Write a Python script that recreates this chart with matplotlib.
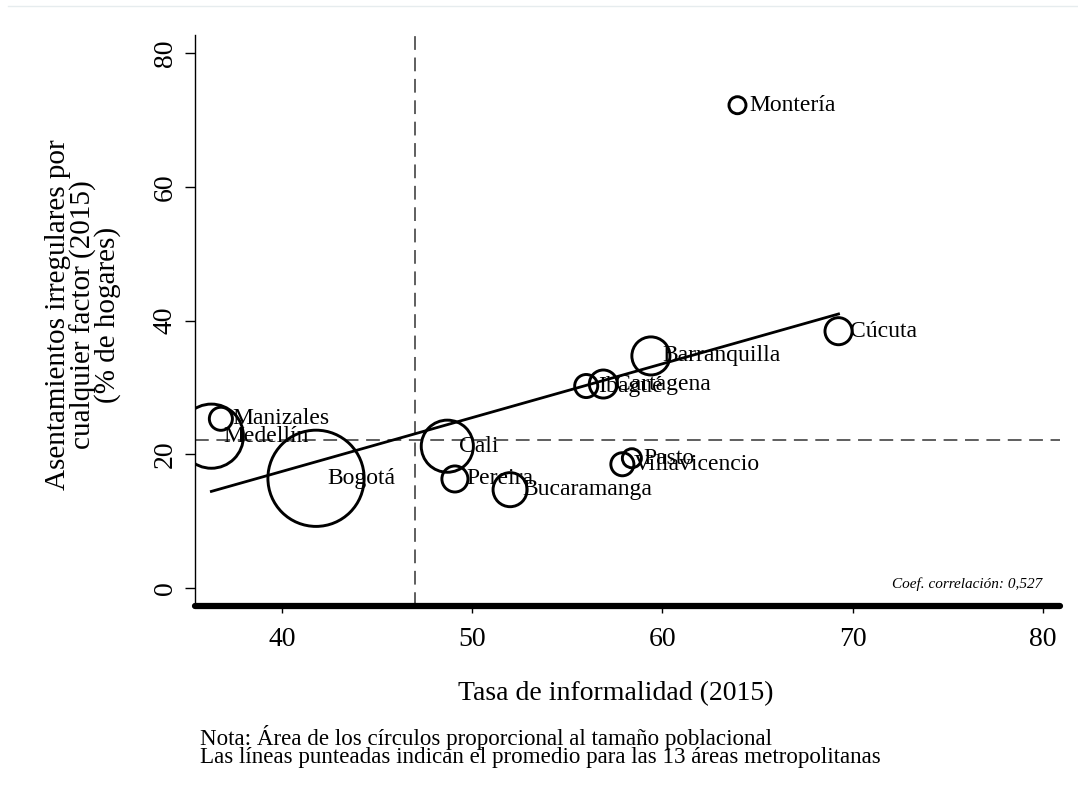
import numpy as np
import matplotlib
matplotlib.use("Agg")
import matplotlib.pyplot as plt
from matplotlib.lines import Line2D

plt.rcParams['font.family'] = ['Liberation Serif', 'DejaVu Serif']

# Data
cities = ["Medellín", "Manizales", "Bogotá", "Cali", "Pereira", "Bucaramanga",
          "Ibagué", "Cartagena", "Villavicencio", "Pasto", "Barranquilla",
          "Montería", "Cúcuta"]
informalidad = [36.3, 36.8, 41.8, 48.7, 49.1, 52.0, 56.0, 56.9, 57.9, 58.4, 59.4, 63.95, 69.26]
asentamientos = [22.7, 25.3, 16.4, 21.2, 16.3, 14.7, 30.2, 30.5, 18.5, 19.4, 34.7, 72.2, 38.4]
poblacion = [3556, 460, 8000, 2347, 587, 1003, 460, 680, 460, 313, 1253, 250, 633]  # miles

promedio_x = 47.0
promedio_y = 22.1
coef_text = "Coef. correlación: 0,527"

x = np.array(informalidad)
y = np.array(asentamientos)
pop = np.array(poblacion)

fig = plt.figure(figsize=(10.78, 7.87), dpi=100)
ax = fig.add_axes([195 / 1078, 1 - 606 / 787, (1060 - 195) / 1078, (606 - 35) / 787])

ax.set_xlim(35.44, 80.9)
ax.set_ylim(-2.7, 82.7)

# mean lines
ax.axvline(promedio_x, color='#333333', lw=1.1, dashes=(9, 5), zorder=1)
ax.axhline(promedio_y, color='#333333', lw=1.1, dashes=(9, 5), zorder=1)

# bubbles, area proportional to population
ax.scatter(x, y, s=pop * 0.6, facecolors='none', edgecolors='black', linewidths=2.1, zorder=3)

# linear fit
slope, intercept = np.polyfit(x, y, 1)
xf = np.array([x.min(), x.max()])
ax.plot(xf, intercept + slope * xf, color='black', lw=2.0, zorder=2)

for name, xi, yi in zip(cities, x, y):
    ax.annotate(name, (xi, yi), xytext=(8.5, 0), textcoords='offset points',
                ha='left', va='center', fontsize=17, zorder=4)

ax.text(0.979, 0.027, coef_text, transform=ax.transAxes, ha='right', va='bottom',
        fontsize=11, style='italic')

# axes styling
for s in ['top', 'right']:
    ax.spines[s].set_visible(False)
ax.spines['left'].set_linewidth(1.0)
ax.spines['bottom'].set_linewidth(4.5)
ax.spines['bottom'].set_capstyle('round')

ax.set_xticks([40, 50, 60, 70, 80])
ax.set_yticks([0, 20, 40, 60, 80])
ax.tick_params(axis='x', length=5, width=1, pad=10, labelsize=20)
ax.tick_params(axis='y', length=7.5, width=1, pad=5, labelsize=20)
for lab in ax.get_yticklabels():
    lab.set_rotation(90)
    lab.set_va('center')

ax.set_ylabel("Asentamientos irregulares por\ncualquier factor (2015)\n(% de hogares)",
              fontsize=21, linespacing=0.9)
ax.yaxis.set_label_coords(-0.085, 0.51)

fig.text(616 / 1078, 1 - 700 / 787, "Tasa de informalidad (2015)", ha='center',
         va='baseline', fontsize=20)
fig.text(200 / 1078, 1 - 745 / 787,
         "Nota: Área de los círculos proporcional al tamaño poblacional",
         ha='left', va='baseline', fontsize=16.6)
fig.text(200 / 1078, 1 - 763 / 787,
         "Las líneas punteadas indican el promedio para las 13 áreas metropolitanas",
         ha='left', va='baseline', fontsize=16.6)

# faint border line at the top of the graph region
fig.add_artist(Line2D([8 / 1078, 1], [1 - 6 / 787, 1 - 6 / 787], color='#e6ecee', lw=1,
                      transform=fig.transFigure))

fig.savefig("out.png", dpi=100)
